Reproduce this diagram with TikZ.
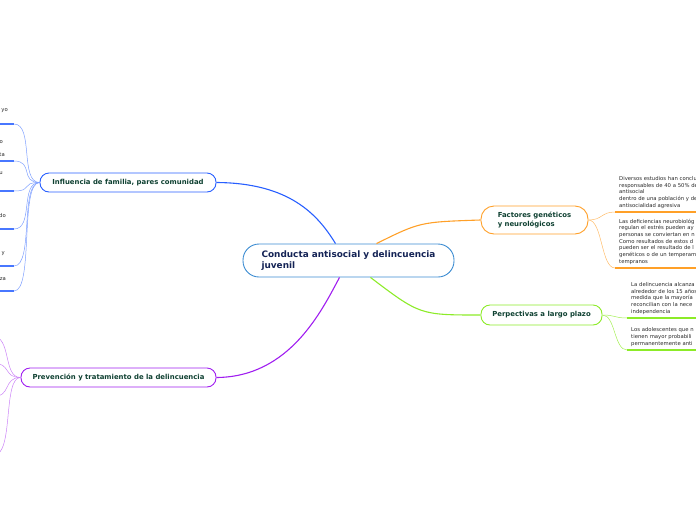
\documentclass[tikz,border=0pt]{standalone}
\usepackage{fontspec}
\setmainfont{DejaVu Sans}
\usepackage{tikz}
\usetikzlibrary{positioning}
\definecolor{mainblue}{RGB}{60,140,210}
\definecolor{navy}{RGB}{20,35,85}
\definecolor{famblue}{RGB}{40,95,255}
\definecolor{prevpurple}{RGB}{160,30,240}
\definecolor{genorange}{RGB}{255,160,40}
\definecolor{plazogreen}{RGB}{140,235,40}
\definecolor{labelgreen}{RGB}{15,65,50}
\definecolor{leaftext}{RGB}{40,40,40}

\begin{document}
\begin{tikzpicture}[
  x=1pt, y=-1pt,
  topic/.style={rectangle, rounded corners=16pt, draw=mainblue, line width=0.9pt, fill=white,
                text=navy, font=\fontsize{8.9}{10.5}\selectfont\bfseries, align=left,
                minimum width=211pt, minimum height=33pt},
  branch/.style={rectangle, rounded corners=9pt, line width=0.9pt, fill=white, text=labelgreen,
                 font=\fontsize{6.9}{8.5}\selectfont\bfseries, minimum height=19pt},
  leaf/.style={font=\fontsize{5.3}{6.7}\selectfont, text=leaftext, align=left, text width=100pt,
               inner xsep=4pt, inner ysep=3.5pt, anchor=south west},
  frag/.style={font=\fontsize{5.3}{6.7}\selectfont, text=leaftext, inner sep=0pt, anchor=east},
  arr/.style={line width=1.1pt},
  twig/.style={line width=0.5pt},
  uline/.style={line width=1.4pt}
]
\useasboundingbox (0,0) rectangle (696,520);
\clip (0,0) rectangle (696,520);

% main topic and branches
\node[topic] (main) at (348.5,260.5) {Conducta antisocial y delincuencia\\juvenil};
\node[branch, draw=famblue, minimum width=176pt] (fam) at (128,182.5) {Influencia de familia, pares comunidad};
\node[branch, draw=prevpurple, minimum width=195pt] (prev) at (118.5,377.5) {Prevención y tratamiento de la delincuencia};
\node[branch, draw=genorange, minimum width=107pt, minimum height=28pt, rounded corners=13pt, align=left] (gen) at (534.5,220) {Factores genéticos\\y neurológicos};
\node[branch, draw=plazogreen, minimum width=121pt, minimum height=20pt] (plazo) at (541.5,315) {Perpectivas a largo plazo};

\draw[arr, famblue] (fam.east) .. controls (290,183) and (318,215) .. ([xshift=-13pt]main.north);
\draw[arr, prevpurple] (prev.east) .. controls (290,377) and (322,310) .. ([xshift=-9pt]main.south);
\draw[arr, genorange] ([xshift=28pt]main.north) .. controls (420,222) .. (gen.west);
\draw[arr, plazogreen] ([xshift=22pt]main.south) .. controls (420,315) .. (plazo.west);

% familia (cut at the left edge)
\coordinate (fl1) at (14,124);
\coordinate (fl2) at (14,161);
\coordinate (fl3) at (14,191);
\coordinate (fl4) at (14,229);
\coordinate (fl5) at (14,266);
\coordinate (fl6) at (14,291);
\draw[twig, famblue!60] (fam.west) .. controls +(-20,0) and +(20,0) .. (fl1);
\draw[twig, famblue!60] (fam.west) .. controls +(-20,0) and +(20,0) .. (fl2);
\draw[twig, famblue!60] (fam.west) .. controls +(-20,0) and +(20,0) .. (fl3);
\draw[twig, famblue!60] (fam.west) .. controls +(-20,0) and +(20,0) .. (fl4);
\draw[twig, famblue!60] (fam.west) .. controls +(-20,0) and +(20,0) .. (fl5);
\draw[twig, famblue!60] (fam.west) .. controls +(-20,0) and +(20,0) .. (fl6);
\draw[uline, famblue!85] (fl1) -- ++(-20,0);
\draw[uline, famblue!85] (fl2) -- ++(-20,0);
\draw[uline, famblue!85] (fl3) -- ++(-20,0);
\draw[uline, famblue!85] (fl4) -- ++(-20,0);
\draw[uline, famblue!85] (fl5) -- ++(-20,0);
\draw[uline, famblue!85] (fl6) -- ++(-20,0);
\node[frag] (f1) at (8,111) {yo};
\node[frag] (f2) at (3,142) {o};
\node[frag] (f3) at (5,155) {ta};
\node[frag] (f4) at (3,173) {u};
\node[frag] (f5) at (6,216) {do};
\node[frag] (f6) at (5,254) {y};
\node[frag] (f7) at (6,279) {za};

% prevencion (cut at the left edge)
\coordinate (pl1) at (-8,336);
\coordinate (pl2) at (-8,363);
\coordinate (pl3) at (-8,397);
\coordinate (pl4) at (-6,455);
\draw[twig, prevpurple!55] (prev.west) .. controls +(-18,0) and +(20,0) .. (pl1);
\draw[twig, prevpurple!55] (prev.west) .. controls +(-18,0) and +(20,0) .. (pl2);
\draw[twig, prevpurple!55] (prev.west) .. controls +(-18,0) and +(20,0) .. (pl3);
\draw[twig, prevpurple!55] (prev.west) .. controls +(-18,0) and +(20,0) .. (pl4);

% factores
\node[leaf] (g1) at (615,212) {Diversos estudios han conclu\\responsables de 40 a 50\% de\\antisocial\\dentro de una población y de\\antisocialidad agresiva};
\node[leaf] (g2) at (615,268) {Las deficiencias neurobiológ\\regulan el estrés pueden ay\\personas se conviertan en n\\Como resultados de estos d\\pueden ser el resultado de l\\genéticos o de un temperam\\tempranos};
\draw[twig, genorange!70] (gen.east) .. controls +(14,0) and +(-14,0) .. (g1.south west);
\draw[twig, genorange!70] (gen.east) .. controls +(14,0) and +(-14,0) .. (g2.south west);
\draw[uline, genorange] (g1.south west) -- (g1.south east);
\draw[uline, genorange] (g2.south west) -- (g2.south east);

% perspectivas
\node[leaf] (p1) at (627,318) {La delincuencia alcanza\\alrededor de los 15 años\\medida que la mayoría\\reconcilian con la nece\\independencia};
\node[leaf] (p2) at (627,350) {Los adolescentes que n\\tienen mayor probabili\\permanentemente anti};
\draw[twig, plazogreen!80] (plazo.east) .. controls +(13,0) and +(-13,0) .. (p1.south west);
\draw[twig, plazogreen!80] (plazo.east) .. controls +(13,0) and +(-13,0) .. (p2.south west);
\draw[uline, plazogreen] (p1.south west) -- (p1.south east);
\draw[uline, plazogreen] (p2.south west) -- (p2.south east);
\end{tikzpicture}
\end{document}
